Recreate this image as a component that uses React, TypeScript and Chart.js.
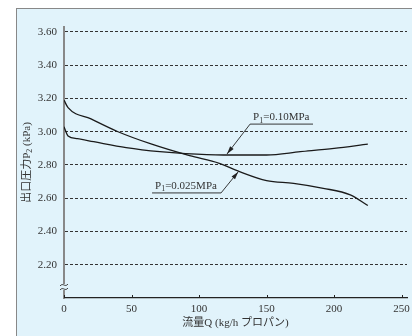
import React, { useEffect, useRef } from "react";
import { Chart, registerables } from "chart.js";

Chart.register(...registerables);

// ---- data ----
const flowA = [0, 3, 10, 22, 46, 71, 90, 118, 150, 175, 200, 225];
const pressureA = [3.03, 2.975, 2.958, 2.94, 2.905, 2.88, 2.868, 2.86, 2.86, 2.88, 2.9, 2.925];
const flowB = [0, 3, 20, 40, 65, 93, 115, 130, 150, 170, 192, 212, 225];
const pressureB = [3.19, 3.145, 3.077, 3.0, 2.925, 2.856, 2.81, 2.76, 2.706, 2.69, 2.66, 2.62, 2.556];
const xTicks = [0, 50, 100, 150, 200, 250];
const yTicks = [2.2, 2.4, 2.6, 2.8, 3.0, 3.2, 3.4, 3.6];
// [main, subscript, main]
const labelA = ["P", "1", "=0.10MPa"];
const labelB = ["P", "1", "=0.025MPa"];
const xTitle = "流量Q (kg/h プロパン)";
const yTitle = ["出口圧力P", "2", " (kPa)"];

const BG = "#e1f3fb";
const TEXT = "#333333";
const SERIF = "'Liberation Serif', 'DejaVu Serif', 'Noto Sans CJK JP', serif";

// annotation anchors in data units
const annotations = [
  { parts: labelA, lineY: 3.046, from: 137.8, to: 184.4, leaderAtStart: true, tipX: 120.7, tipY: 2.866 },
  { parts: labelB, lineY: 2.632, from: 65.2, to: 116.3, leaderAtStart: false, tipX: 129.1, tipY: 2.76 },
];

function richWidth(ctx: CanvasRenderingContext2D, parts: string[]) {
  let w = 0;
  parts.forEach((p, i) => {
    ctx.font = i % 2 === 1 ? `8px ${SERIF}` : `11px ${SERIF}`;
    w += ctx.measureText(p).width;
  });
  return w;
}

function drawRich(ctx: CanvasRenderingContext2D, parts: string[], x: number, y: number) {
  let cx = x;
  parts.forEach((p, i) => {
    const sub = i % 2 === 1;
    ctx.font = sub ? `8px ${SERIF}` : `11px ${SERIF}`;
    ctx.fillText(p, cx, sub ? y + 2.5 : y);
    cx += ctx.measureText(p).width;
  });
}

const decorPlugin = {
  id: "decor",
  afterDatasetsDraw(chart: any) {
    const { ctx, scales, chartArea } = chart;
    const xs = scales.x;
    const ys = scales.y;
    ctx.save();
    // x tick marks (upwards)
    ctx.strokeStyle = "#222";
    ctx.lineWidth = 1;
    const yb = chartArea.bottom;
    xTicks.forEach((v) => {
      const px = Math.round(xs.getPixelForValue(v)) + 0.5;
      ctx.beginPath();
      ctx.moveTo(px, yb);
      ctx.lineTo(px, yb - 3);
      ctx.stroke();
    });
    // axis break symbol
    const bx = chartArea.left;
    const by = ys.getPixelForValue(2.066);
    ctx.fillStyle = BG;
    ctx.fillRect(bx - 2, by - 3, 4, 6);
    ctx.strokeStyle = "#444";
    ctx.lineWidth = 1;
    [-2, 2].forEach((dy) => {
      ctx.beginPath();
      ctx.moveTo(bx - 4, by + dy + 1);
      ctx.bezierCurveTo(bx - 1, by + dy - 3, bx + 1, by + dy + 3, bx + 4, by + dy - 1);
      ctx.stroke();
    });
    // y title (rotated, with subscript)
    ctx.fillStyle = TEXT;
    ctx.textBaseline = "middle";
    ctx.textAlign = "left";
    const tw = richWidth(ctx, yTitle);
    const cy = (chartArea.top + chartArea.bottom) / 2;
    ctx.save();
    ctx.translate(10, cy);
    ctx.rotate(-Math.PI / 2);
    drawRich(ctx, yTitle, -tw / 2, 0);
    ctx.restore();
    // annotations
    ctx.textBaseline = "alphabetic";
    annotations.forEach((a) => {
      const ly = ys.getPixelForValue(a.lineY);
      const x1 = xs.getPixelForValue(a.from);
      const x2 = xs.getPixelForValue(a.to);
      ctx.fillStyle = TEXT;
      drawRich(ctx, a.parts, x1 + 3, ly - 4);
      ctx.strokeStyle = "#222";
      ctx.lineWidth = 0.9;
      ctx.beginPath();
      ctx.moveTo(x1, ly);
      ctx.lineTo(x2, ly);
      ctx.stroke();
      const sx = a.leaderAtStart ? x1 : x2;
      const tx = xs.getPixelForValue(a.tipX);
      const ty = ys.getPixelForValue(a.tipY);
      ctx.beginPath();
      ctx.moveTo(sx, ly);
      ctx.lineTo(tx, ty);
      ctx.stroke();
      const ang = Math.atan2(ty - ly, tx - sx);
      const len = 8;
      const hw = 2.2;
      const bxp = tx - len * Math.cos(ang);
      const byp = ty - len * Math.sin(ang);
      ctx.fillStyle = "#222";
      ctx.beginPath();
      ctx.moveTo(tx, ty);
      ctx.lineTo(bxp + hw * Math.sin(ang), byp - hw * Math.cos(ang));
      ctx.lineTo(bxp - hw * Math.sin(ang), byp + hw * Math.cos(ang));
      ctx.closePath();
      ctx.fill();
    });
    ctx.restore();
  },
};

export default function App() {
  const ref = useRef<HTMLCanvasElement | null>(null);
  useEffect(() => {
    document.documentElement.style.overflow = "hidden";
    if (!ref.current) return;
    const chart = new Chart(ref.current, {
      type: "line",
      data: {
        datasets: [
          {
            label: labelA.join(""),
            data: flowA.map((q, i) => ({ x: q, y: pressureA[i] })),
            borderColor: "#1a1a1a",
            borderWidth: 1.3,
            pointRadius: 0,
            tension: 0.4,
            cubicInterpolationMode: "monotone",
            fill: false,
          },
          {
            label: labelB.join(""),
            data: flowB.map((q, i) => ({ x: q, y: pressureB[i] })),
            borderColor: "#1a1a1a",
            borderWidth: 1.3,
            pointRadius: 0,
            tension: 0.4,
            cubicInterpolationMode: "monotone",
            fill: false,
          },
        ],
      },
      options: {
        animation: false,
        responsive: false,
        maintainAspectRatio: false,
        layout: { padding: { left: 0, right: 9, top: 18, bottom: 0 } },
        plugins: { legend: { display: false }, tooltip: { enabled: false } },
        scales: {
          x: {
            type: "linear",
            min: 0,
            max: 254,
            afterBuildTicks: (s: any) => {
              s.ticks = xTicks.map((v) => ({ value: v }));
            },
            afterFit: (s: any) => {
              s.height = 38;
            },
            grid: { display: false, drawTicks: false },
            border: { display: true, color: "#222", width: 1.2 },
            ticks: {
              padding: 5,
              color: TEXT,
              font: { family: SERIF, size: 11 },
              maxRotation: 0,
              callback: (v: any) => String(v),
            },
            title: {
              display: true,
              text: xTitle,
              color: TEXT,
              font: { family: SERIF, size: 11 },
              padding: { top: 0, bottom: 6.4 },
            },
          },
          y: {
            type: "linear",
            min: 2.0,
            max: 3.63,
            afterBuildTicks: (s: any) => {
              s.ticks = yTicks.map((v) => ({ value: v }));
            },
            afterFit: (s: any) => {
              s.width = 47;
            },
            grid: { display: true, drawTicks: false, color: "#333", lineWidth: 1 },
            border: { display: true, color: "#888", width: 2, dash: [3, 2] },
            ticks: {
              padding: 7,
              color: TEXT,
              font: { family: SERIF, size: 11 },
              callback: (v: any) => Number(v).toFixed(2),
            },
            title: { display: false },
          },
        },
      },
      plugins: [decorPlugin],
    });
    return () => chart.destroy();
  }, []);

  return (
    <div
      style={{
        marginLeft: 8,
        width: 401,
        height: 330,
        boxSizing: "border-box",
        borderTop: "1px solid #888",
        borderLeft: "1px solid #888",
        borderRight: "1px solid #888",
        background: BG,
        overflow: "hidden",
      }}
    >
      <canvas ref={ref} width={399} height={327} style={{ display: "block", width: 399, height: 327 }} />
    </div>
  );
}
